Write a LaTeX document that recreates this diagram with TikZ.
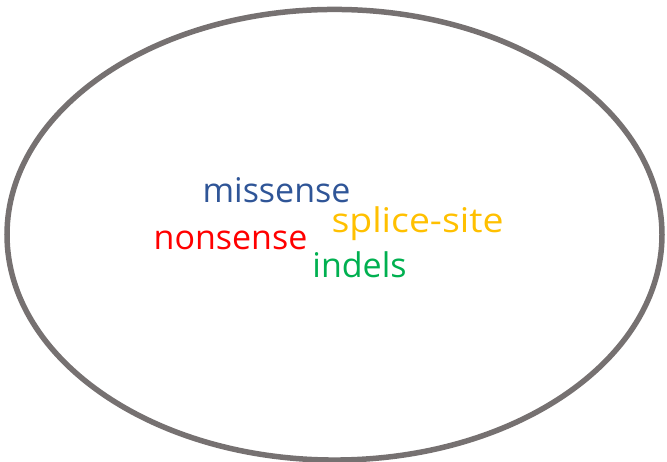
\documentclass[tikz,border=0pt]{standalone}
\usepackage{fontspec}
\setmainfont{Open Sans}
\definecolor{rimgray}{HTML}{767171}
\definecolor{wblue}{HTML}{2F5597}
\definecolor{wyellow}{HTML}{FFC000}
\definecolor{wred}{HTML}{FF0000}
\definecolor{wgreen}{HTML}{00B050}
\begin{document}
\begin{tikzpicture}[x=1pt,y=1pt,
  word/.style={anchor=base,inner sep=0pt,font=\fontsize{34}{38}\selectfont}]
\useasboundingbox (0,0) rectangle (667,462);
\draw[rimgray,line width=5.5pt] (334.5,227.25) ellipse [x radius=327.5,y radius=225.3];
\node[word,text=wblue] (missense) at (276.5,259) {missense};
\node[word,text=wyellow,xscale=1.1,transform shape] (splice) at (417.5,229) {splice-site};
\node[word,text=wred] (nonsense) at (230.5,212) {nonsense};
\node[word,text=wgreen] (indels) at (359.5,184) {indels};
\end{tikzpicture}
\end{document}
